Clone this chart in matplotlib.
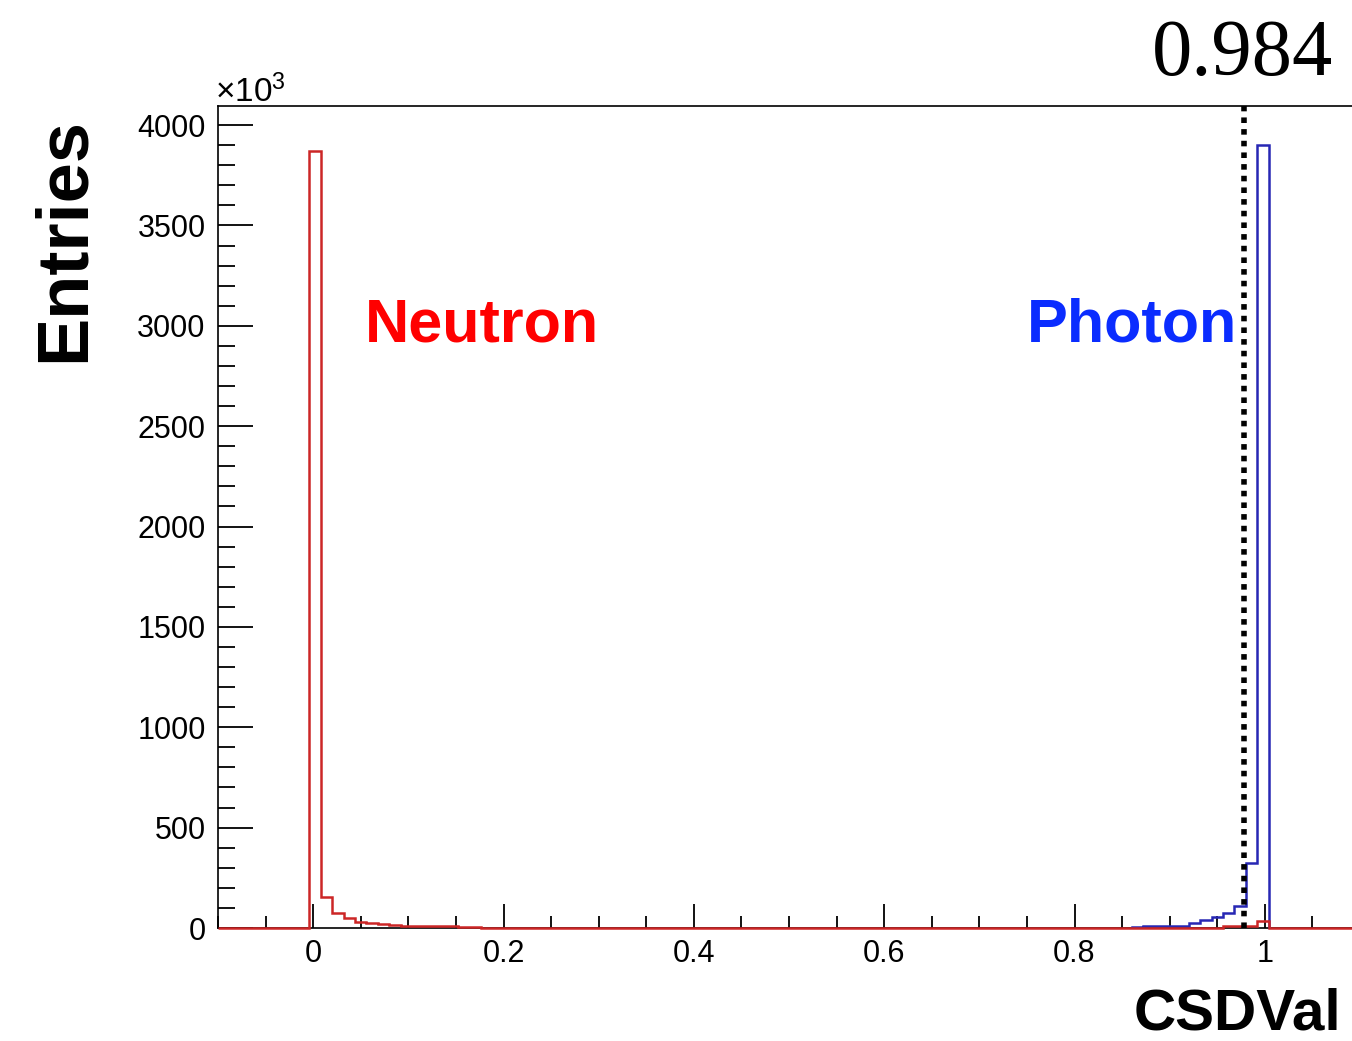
import numpy as np
import matplotlib
matplotlib.use("Agg")
import matplotlib.pyplot as plt
from matplotlib.ticker import MultipleLocator, FixedLocator

plt.rcParams['font.family'] = ['Liberation Sans', 'DejaVu Sans']
plt.rcParams['mathtext.fontset'] = 'custom'
plt.rcParams['mathtext.rm'] = 'Liberation Sans'
plt.rcParams['mathtext.it'] = 'Liberation Sans:italic'
plt.rcParams['mathtext.bf'] = 'Liberation Sans:bold'

# ---- data (entries in units of 10^3) ----
n_bins = 100
x_lo, x_hi = -0.1, 1.1
edges = np.linspace(x_lo, x_hi, n_bins + 1)

# neutron: nonzero bins (bin index -> value)
neutron_bins = [8, 9, 10, 11, 12, 13, 14, 15, 16, 17, 18, 19, 20, 21, 22, 88, 89, 90, 91]
neutron_vals = [3870, 156, 74, 48, 30, 27, 18, 16, 11, 10, 9, 8, 8, 7, 6, 9, 11, 12, 36]

# photon: nonzero bins
photon_bins = [80, 81, 82, 83, 84, 85, 86, 87, 88, 89, 90, 91]
photon_vals = [7, 8, 9, 10, 12, 23, 38, 53, 75, 112, 322, 3900]

cut_value = 0.978
cut_label = "0.984"
x_major = [0, 0.2, 0.4, 0.6, 0.8, 1]
x_major_labels = ["0", "0.2", "0.4", "0.6", "0.8", "1"]
y_max = 4095

neutron = np.zeros(n_bins)
neutron[neutron_bins] = neutron_vals
photon = np.zeros(n_bins)
photon[photon_bins] = photon_vals

W, H = 1352, 1041
fig = plt.figure(figsize=(W / 100, H / 100), dpi=100)
ax = fig.add_axes([218 / W, 1 - 928 / H, (1360 - 218) / W, (928 - 106) / H])

# photon drawn only over its populated range (its zero line sits beneath the axis)
p0, p1 = min(photon_bins), max(photon_bins) + 1
ax.stairs(photon[p0:p1], edges[p0:p1 + 1], color='#2727b4', lw=1.8, baseline=0, zorder=3,
          clip_on=False)
ax.stairs(neutron, edges, color='#cc2626', lw=1.8, baseline=0, zorder=4, clip_on=False)
ax.plot([cut_value, cut_value], [0, y_max], color='black', lw=4.0,
        linestyle=(0, (1, 1.1)), dash_capstyle='butt', zorder=5)

ax.set_xlim(x_lo, x_hi)
ax.set_ylim(0, y_max)

ax.xaxis.set_major_locator(FixedLocator(x_major))
ax.set_xticklabels(x_major_labels)
ax.xaxis.set_minor_locator(MultipleLocator(0.05))
ax.yaxis.set_major_locator(MultipleLocator(500))
ax.yaxis.set_minor_locator(MultipleLocator(100))

ax.tick_params(axis='both', which='both', direction='in', width=1.3, colors='black',
               labelsize=22, top=False, right=False)
ax.tick_params(axis='y', which='major', length=25, pad=9)
ax.tick_params(axis='y', which='minor', length=12)
ax.tick_params(axis='x', which='major', length=17, pad=8)
ax.tick_params(axis='x', which='minor', length=9)
for s in ax.spines.values():
    s.set_linewidth(1.2)
    s.set_color('black')

fig.text(215 / W, 1 - 102 / H, r'$\times10^{3}$', fontsize=24, ha='left', va='baseline')
fig.text(365 / W, 1 - 341 / H, 'Neutron', color='#ff0000', fontsize=44,
         fontweight='bold', ha='left', va='baseline')
fig.text(1027 / W, 1 - 341 / H, 'Photon', color='#0a2cff', fontsize=44,
         fontweight='bold', ha='left', va='baseline')
fig.text(1333 / W, 1 - 75 / H, cut_label, fontsize=58, family='Liberation Serif',
         ha='right', va='baseline')
fig.text(1341 / W, 1 - 1029 / H, 'CSDVal', fontsize=42, fontweight='bold',
         ha='right', va='baseline')
fig.text(65 / W, 1 - 240 / H, 'Entries', fontsize=52, fontweight='bold',
         rotation=90, ha='center', va='center')

fig.savefig('out.png', dpi=100)
